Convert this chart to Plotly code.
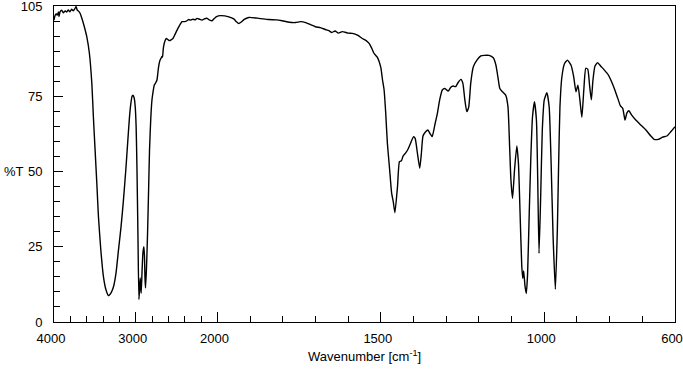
import plotly.graph_objects as go

# Wavenumber (cm-1) and transmittance (%T)
wavenumber = [
    4000, 3990, 3975, 3960, 3945, 3939, 3925, 3905, 3885, 3865, 3844, 3825, 3805, 3785, 3765, 3745,
    3730, 3715, 3700, 3681, 3660, 3640, 3620, 3599, 3567, 3537, 3518, 3497, 3476, 3456, 3427, 3395,
    3365, 3334, 3300, 3272, 3240, 3211, 3180, 3150, 3120, 3096, 3075, 3059, 3045, 3034, 3020, 3006,
    2995, 2985, 2973, 2961, 2953, 2945, 2938, 2933, 2922, 2912, 2900, 2893, 2887, 2880, 2868, 2855,
    2843, 2831, 2815, 2801, 2785, 2773, 2755, 2740, 2730, 2720, 2705, 2691, 2680, 2672, 2665, 2659,
    2640, 2626, 2605, 2585, 2565, 2544, 2520, 2494, 2465, 2433, 2400, 2372, 2350, 2331, 2300, 2270,
    2249, 2220, 2188, 2160, 2126, 2100, 2065, 2045, 2025, 2010, 1991, 1965, 1950, 1942, 1935, 1927,
    1919, 1904, 1873, 1843, 1820, 1802, 1780, 1761, 1745, 1730, 1715, 1700, 1685, 1670, 1659, 1650,
    1640, 1630, 1618, 1600, 1587, 1570, 1557, 1545, 1536, 1528, 1521, 1511, 1500, 1495, 1490, 1485,
    1480, 1473, 1467, 1462, 1457, 1449, 1443, 1437, 1432, 1424, 1417, 1409, 1400, 1395, 1388, 1381,
    1376, 1371, 1363, 1356, 1350, 1343, 1335, 1327, 1320, 1312, 1304, 1294, 1286, 1279, 1271, 1264,
    1255, 1249, 1243, 1237, 1231, 1225, 1217, 1206, 1194, 1184, 1169, 1156, 1148, 1142, 1136, 1128,
    1118, 1111, 1106, 1102, 1097, 1091, 1084, 1079, 1074, 1069, 1066, 1063, 1059, 1055, 1051, 1046,
    1041, 1036, 1030, 1024, 1020, 1016, 1011, 1006, 1000, 992, 985, 979, 973, 966, 960, 956,
    952, 946, 938, 929, 918, 910, 903, 897, 891, 885, 879, 873, 867, 861, 856, 851,
    845, 837, 827, 816, 804, 794, 784, 775, 767, 760, 756, 753, 747, 741, 733, 720,
    704, 689, 674, 664, 651, 638, 625, 613, 600,
]
transmittance = [
    100.3, 101.6, 102.4, 102.0, 103.0, 101.5, 103.1, 103.6, 102.7, 103.4, 103.0, 103.7, 103.1, 103.9, 103.4, 104.1,
    104.8, 103.6, 103.3, 102.6, 101.0, 99.2, 97.2, 94.8, 89.3, 79.3, 68.2, 57.1, 46.1, 35.0, 23.9, 15.1,
    10.8, 8.8, 9.8, 11.7, 16.5, 23.9, 31.5, 40.5, 51.0, 60.5, 68.5, 72.7, 75.0, 75.4, 74.6, 71.5,
    65.0, 51.6, 29.5, 7.5, 10.5, 14.6, 12.0, 9.6, 17.0, 22.9, 25.0, 22.0, 15.0, 11.3, 18.0, 29.5,
    43.0, 57.1, 68.0, 73.8, 77.0, 78.7, 79.5, 80.4, 82.5, 84.8, 86.8, 87.6, 88.2, 88.0, 90.0, 91.5,
    93.5, 94.2, 93.8, 93.5, 93.8, 94.2, 95.5, 97.0, 98.5, 99.8, 99.8, 100.1, 100.5, 100.3, 100.6, 100.4,
    100.9, 100.6, 100.3, 100.7, 100.9, 100.4, 100.1, 100.7, 101.2, 101.5, 101.8, 101.4, 100.7, 99.8, 99.2, 99.7,
    100.5, 101.2, 100.9, 100.5, 100.4, 100.1, 99.6, 99.5, 99.8, 99.5, 98.8, 98.1, 97.8, 97.2, 96.8, 96.2,
    96.7, 96.0, 96.5, 96.0, 95.9, 95.2, 94.2, 93.5, 92.6, 91.0, 89.3, 88.0, 84.5, 80.5, 77.1, 69.3,
    59.4, 50.5, 42.8, 40.0, 36.3, 45.0, 53.3, 53.6, 55.1, 56.2, 57.4, 59.4, 61.6, 61.0, 56.0, 51.1,
    56.0, 61.8, 63.2, 63.8, 62.7, 61.6, 65.4, 69.3, 73.8, 77.1, 77.6, 76.7, 78.0, 78.4, 78.2, 79.5,
    80.6, 79.3, 73.8, 69.9, 71.5, 79.3, 84.8, 87.0, 88.4, 88.6, 88.6, 87.8, 85.4, 81.5, 77.6, 76.5,
    75.4, 71.5, 58.3, 47.2, 41.1, 50.5, 58.5, 52.7, 36.1, 19.0, 14.5, 17.0, 12.0, 9.5, 16.0, 36.1,
    54.9, 68.2, 73.2, 67.1, 47.2, 22.8, 41.6, 63.8, 73.8, 76.2, 71.5, 52.7, 28.3, 10.9, 30.6, 52.7,
    71.5, 81.5, 85.9, 87.0, 85.3, 81.5, 76.5, 78.7, 73.8, 68.0, 77.1, 84.3, 84.0, 78.2, 73.8, 80.4,
    85.0, 86.2, 85.0, 83.7, 82.1, 79.8, 77.1, 74.3, 71.8, 71.0, 68.8, 67.1, 69.5, 70.2, 68.8, 67.1,
    65.4, 63.8, 61.8, 60.7, 60.7, 61.4, 61.8, 63.2, 64.9,
]

x_tick_labels = [4000, 3000, 2000, 1500, 1000, 600]
x_minor_ticks = [3800, 3600, 3400, 3200, 2800, 2600, 2400, 2200,
                 1900, 1800, 1700, 1600, 1400, 1300, 1200, 1100, 900, 800, 700]
y_tick_labels = [0, 25, 50, 75, 105]
y_minor_ticks = [5, 10, 15, 20, 30, 35, 40, 45, 55, 60, 65, 70, 80, 85, 90, 95, 100]


def to_axis(w):
    # region above 2000 cm-1 drawn at a quarter of the scale
    return w if w <= 2000 else 2000 + (w - 2000) / 4.0


fig = go.Figure()
fig.add_trace(go.Scatter(
    x=[to_axis(w) for w in wavenumber], y=transmittance, mode="lines",
    line=dict(color="black", width=1.4, shape="spline", smoothing=0.5),
    hoverinfo="skip", showlegend=False, cliponaxis=True,
))

font = dict(family="Liberation Sans, Arial, sans-serif", size=13, color="black")

fig.update_layout(
    width=683, height=375,
    margin=dict(l=54, r=8, t=6, b=53, autoexpand=False),
    paper_bgcolor="white", plot_bgcolor="white",
    font=font,
    xaxis=dict(
        range=[to_axis(4000), to_axis(600)],
        tickmode="array",
        tickvals=[to_axis(v) for v in x_tick_labels],
        ticktext=[str(v) for v in x_tick_labels],
        ticks="inside", ticklen=10, tickwidth=1, tickcolor="black",
        minor=dict(tickmode="array", tickvals=[to_axis(v) for v in x_minor_ticks],
                   ticks="inside", ticklen=6, tickwidth=1, tickcolor="black"),
        showline=True, linecolor="black", linewidth=1, mirror=True,
        showgrid=False, zeroline=False, ticklabelstandoff=4, ticklabelshift=3,
        automargin=False, ticklabeloverflow="allow",
    ),
    yaxis=dict(
        range=[0, 105],
        tickmode="array", tickvals=y_tick_labels,
        ticktext=[str(v) for v in y_tick_labels],
        ticks="inside", ticklen=9, tickwidth=1, tickcolor="black",
        minor=dict(tickmode="array", tickvals=y_minor_ticks,
                   ticks="inside", ticklen=6, tickwidth=1, tickcolor="black"),
        showline=True, linecolor="black", linewidth=1, mirror=True,
        showgrid=False, zeroline=False, ticklabelstandoff=8,
        automargin=False, ticklabeloverflow="allow",
    ),
    annotations=[
        dict(text="%T", xref="paper", yref="y", x=0, y=50, xanchor="left",
             xshift=-52, showarrow=False, font=font),
        dict(text="Wavenumber [cm<sup>-1</sup>]", xref="paper", yref="paper",
             x=0.5, y=0, yanchor="top", yshift=-24, showarrow=False, font=font),
    ],
)

fig.write_html("out.html", config={"displayModeBar": False},
               post_script="document.body.style.margin='0';document.body.style.padding='0';")
